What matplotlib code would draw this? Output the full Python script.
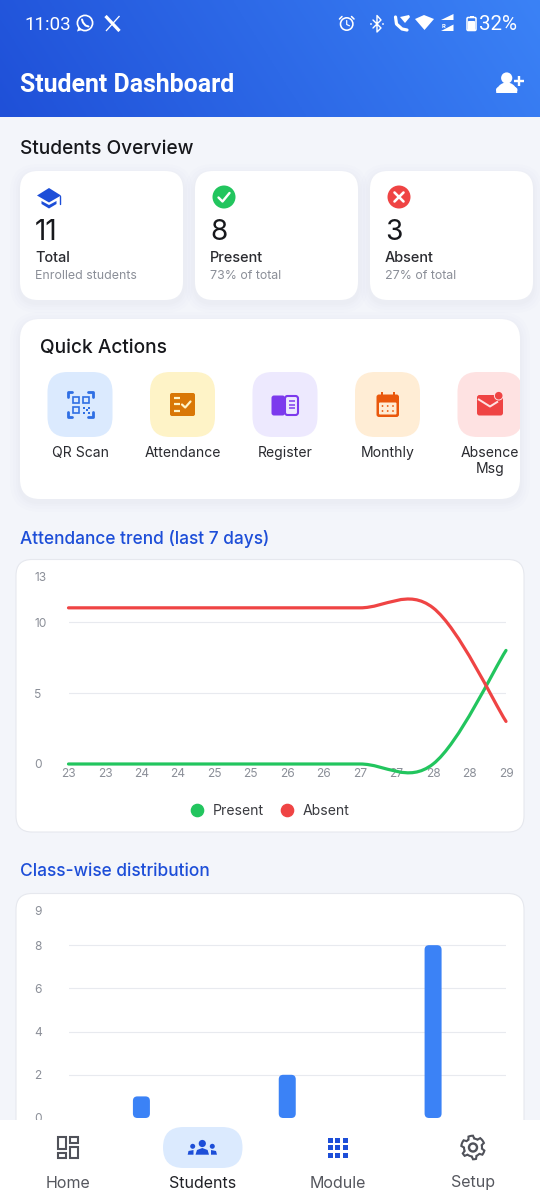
import numpy as np
import matplotlib
matplotlib.use('Agg')
import matplotlib.pyplot as plt
from matplotlib.patches import FancyBboxPatch, Circle, Polygon, PathPatch, Rectangle, Wedge
from matplotlib.path import Path
from matplotlib.lines import Line2D

W, H = 540, 1200

# chart data
trend_ticks = [0, 1, 2, 3, 4, 5, 6, 7, 8, 9, 10, 11, 12]
trend_tick_labels = ['23', '23', '24', '24', '25', '25', '26', '26', '27', '27', '28', '28', '29']
trend_days = [0, 2, 4, 6, 8, 10, 12]
present = [0, 0, 0, 0, 0, 0, 8]
absent = [11, 11, 11, 11, 11, 11, 3]
trend_yticks = [0, 5, 10, 13.2]
trend_ylabels = ['0', '5', '10', '13']

class_pos = [0, 1, 2]
class_counts = [1, 2, 8]
class_yticks = [0, 2, 4, 6, 8, 9.6]
class_ylabels = ['0', '2', '4', '6', '8', '9']

# screen text
overview_values = ['11', '8', '3']
overview_names = ['Total', 'Present', 'Absent']
overview_subs = ['Enrolled students', '73% of total', '27% of total']
action_names = ['QR Scan', 'Attendance', 'Register', 'Monthly', 'Absence\nMsg']
action_bg = ['#dbeafe', '#fef3c7', '#ede9fe', '#ffedd5', '#fee2e2']
nav_names = ['Home', 'Students', 'Module', 'Setup']

BG = '#f3f5fa'
BLUE = '#1d4ed8'
GREEN = '#22c55e'
RED = '#ef4444'
DARK = '#17181c'
GREY = '#8b8f98'
GRID = '#e8eaef'
ICON = '#50525a'


def px_axes(fig, x0, y0, x1, y1, zorder=1):
    return fig.add_axes([x0 / W, 1 - y1 / H, (x1 - x0) / W, (y1 - y0) / H], zorder=zorder)


def rrect(ax, x0, y0, x1, y1, r, fc, ec='none', lw=0, z=2, alpha=None):
    p = FancyBboxPatch((x0, y0), x1 - x0, y1 - y0, boxstyle=f'round,pad=0,rounding_size={r}',
                       fc=fc, ec=ec, lw=lw, zorder=z, alpha=alpha)
    ax.add_patch(p)
    return p


def shadow(ax, x0, y0, x1, y1, r, z=1):
    for grow, a in [(10, 0.006), (7, 0.008), (4, 0.01), (2, 0.012)]:
        rrect(ax, x0 - grow, y0 - grow + 3, x1 + grow, y1 + grow + 3, r + grow, '#4a5a80', z=z, alpha=a)


def txt(ax, x, y, s, px, color=DARK, family='Inter', weight='normal', ha='left', va='center', z=6, **kw):
    return ax.text(x, y, s, fontsize=px * 0.72, color=color, family=family, weight=weight,
                   ha=ha, va=va, zorder=z, **kw)


def ln(ax, xs, ys, color, lw=1.5, z=6, cap='round'):
    ax.plot(xs, ys, color=color, lw=lw * 0.72, solid_capstyle=cap, solid_joinstyle='round', zorder=z)


def poly(ax, pts, fc, z=6, ec='none', lw=0):
    ax.add_patch(Polygon(pts, closed=True, fc=fc, ec=ec, lw=lw, zorder=z))


def circ(ax, x, y, r, fc, ec='none', lw=0, z=6):
    ax.add_patch(Circle((x, y), r, fc=fc, ec=ec, lw=lw * 0.72, zorder=z))


def curved(xs, ys, smooth=0.35):
    # same cubic control points as the app's chart widget
    verts = [(xs[0], ys[0])]
    codes = [Path.MOVETO]
    n = len(xs)
    prev_dx, prev_dy = 0.0, 0.0
    for i in range(1, n):
        nx = xs[min(i + 1, n - 1)]
        ny = ys[min(i + 1, n - 1)]
        dx = (nx - xs[i - 1]) / 2 * smooth
        dy = (ny - ys[i - 1]) / 2 * smooth
        verts += [(xs[i - 1] + prev_dx, ys[i - 1] + prev_dy), (xs[i] - dx, ys[i] - dy), (xs[i], ys[i])]
        codes += [Path.CURVE4, Path.CURVE4, Path.CURVE4]
        prev_dx, prev_dy = dx, dy
    return Path(verts, codes)


fig = plt.figure(figsize=(W / 100, H / 100), dpi=100, facecolor=BG)
ui = px_axes(fig, 0, 0, W, H, zorder=0)
ui.set_xlim(0, W)
ui.set_ylim(H, 0)
ui.axis('off')

# header gradient
gx, gy = np.meshgrid(np.linspace(0, 1, 270), np.linspace(0, 1, 60))
g = np.clip(0.88 * gx + 0.12 * (1 - gy), 0, 1)[..., None]
c0 = np.array([0x1f, 0x50, 0xd8]) / 255
c1 = np.array([0x3b, 0x82, 0xf6]) / 255
ui.imshow(c0 + (c1 - c0) * g, extent=(0, W, 117, 0), aspect='auto', zorder=1)
ui.set_xlim(0, W)
ui.set_ylim(H, 0)

# status bar
txt(ui, 24, 25, '11:03', 18.8, 'white', family='Roboto')
circ(ui, 85, 23, 7.6, 'none', 'white', 1.7)
poly(ui, [(78.5, 27), (77, 31.5), (82, 30)], 'white')
ln(ui, [82, 83, 85.5, 88.5], [19.5, 22.5, 25.5, 26.5], 'white', 2)
ln(ui, [105.5, 119.5], [16, 31], 'white', 3.2, cap='butt')
ln(ui, [119.5, 106], [16, 31], 'white', 1.3, cap='butt')
circ(ui, 346.7, 24, 6.2, 'none', 'white', 1.6)
ln(ui, [346.7, 346.7, 349.5], [20.5, 24.5, 25.8], 'white', 1.2)
ln(ui, [339.5, 342], [19, 16.5], 'white', 1.6)
ln(ui, [351.5, 354], [16.5, 19], 'white', 1.6)
ln(ui, [373, 381, 377, 377, 381, 373], [20, 28, 32, 15.5, 20, 28], 'white', 1.4)
circ(ui, 371, 24, 0.9, 'white')
circ(ui, 383, 24, 0.9, 'white')
ln(ui, [395.5, 396.5, 402, 407], [17, 24, 29, 30], 'white', 3.2)
poly(ui, [(400, 17), (409, 15), (410, 17), (405, 23)], 'white')
poly(ui, [(415, 19), (424, 15), (434, 19), (424.5, 30)], 'white')
poly(ui, [(441, 20), (453.5, 14), (453.5, 20)], 'white')
poly(ui, [(441, 31), (453.5, 24.5), (453.5, 31)], 'white')
txt(ui, 443.5, 26, 'R', 6, 'white', family='Roboto', weight='bold', ha='center')
rrect(ui, 467, 17.5, 476, 30.5, 1.2, 'none', 'white', 1.1, z=6)
rrect(ui, 468, 21, 475, 30.5, 0.8, 'white', z=6)
ui.add_patch(Rectangle((469.5, 15.7), 4, 2, fc='white', zorder=6))
txt(ui, 479.5, 25, '32%', 20.5, 'white', family='Roboto')

# app bar
txt(ui, 20, 84.5, 'Student Dashboard', 24.9, 'white', family='Roboto', weight='bold')
circ(ui, 506.7, 78, 5.6, 'white')
ui.add_patch(Wedge((506.7, 93), 10.5, 180, 360, fc='white', zorder=6, transform=ui.transData))
rrect(ui, 496, 87, 517.5, 93, 3, 'white', z=6)
ln(ui, [513.5, 523.5], [81, 81], 'white', 2.4, cap='butt')
ln(ui, [518.5, 518.5], [76, 86], 'white', 2.4, cap='butt')

# overview cards
txt(ui, 20, 149.5, 'Students Overview', 19.1, DARK, weight='medium')
card_left = [20, 195, 370]
for i, x0 in enumerate(card_left):
    shadow(ui, x0, 171, x0 + 163, 300, 18)
    rrect(ui, x0, 171, x0 + 163, 300, 18, 'white', z=2)
    txt(ui, x0 + 15, 232, overview_values[i], 28, DARK)
    txt(ui, x0 + 15, 258, overview_names[i], 14.5, '#2a2b30', weight='medium')
    txt(ui, x0 + 15, 276, overview_subs[i], 12.4, GREY)

# graduation cap
poly(ui, [(37, 195.5), (49, 188), (61, 195.5), (49, 202.5)], BLUE)
poly(ui, [(41.5, 201), (49, 205), (56.5, 201), (56.5, 204), (49, 208.5), (41.5, 204)], BLUE)
ln(ui, [60.3, 60.3], [196, 204], BLUE, 1.4)
circ(ui, 224, 197, 11.5, GREEN)
ln(ui, [218.5, 222.5, 229.5], [197.5, 201.5, 193], 'white', 2.4)
circ(ui, 399, 197, 11.5, RED)
ln(ui, [394.5, 403.5], [192.5, 201.5], 'white', 2.6)
ln(ui, [403.5, 394.5], [192.5, 201.5], 'white', 2.6)

# quick actions
shadow(ui, 20, 319, 520, 499, 20)
rrect(ui, 20, 319, 520, 499, 20, 'white', z=2)
txt(ui, 40, 348, 'Quick Actions', 19.1, DARK, weight='medium')
action_x = [80, 182.5, 285, 387.5, 490]
for i, cx in enumerate(action_x):
    t = rrect(ui, cx - 32.5, 372, cx + 32.5, 437, 20, action_bg[i], z=3)
    t.set_clip_path(Rectangle((20, 319), 500, 180, transform=ui.transData))
    txt(ui, cx, 453 if i < 4 else 461, action_names[i], 14, '#2a2b30', ha='center', linespacing=1.15)

# QR icon
qc = '#2f6fe4'
for sx, sy in [(67.5, 392), (92.5, 392), (67.5, 416.5), (92.5, 416.5)]:
    dx = 4.5 if sx < 80 else -4.5
    dy = 4.5 if sy < 404 else -4.5
    ln(ui, [sx + dx, sx, sx], [sy, sy, sy + dy], qc, 2.8)
for bx0, by0 in [(72.5, 396.5), (82.5, 396.5), (72.5, 406.5)]:
    ui.add_patch(Rectangle((bx0, by0), 6, 6, fc='none', ec=qc, lw=1.2, zorder=6))
for bx0, by0 in [(82.5, 406.5), (85.5, 409), (88, 406.5), (82.5, 411.5), (88, 411.5)]:
    ui.add_patch(Rectangle((bx0, by0), 2, 2, fc=qc, zorder=6))

# attendance icon
ac = '#d97706'
rrect(ui, 170, 393, 195, 416, 2, ac, z=6)
for yy in [397.5, 404, 410.5]:
    ln(ui, [174, 179.5], [yy, yy], '#fef3c7', 2.2, cap='butt')
ln(ui, [182, 185.2, 190.5], [404.5, 407.5, 401.5], '#fef3c7', 2.2)

# book icon
bc = '#7c3aed'
rrect(ui, 271.5, 395.5, 285, 415.5, 2.5, bc, z=6)
rrect(ui, 285, 396, 298, 415, 2.5, 'none', bc, 1.5, z=6)
for yy in [401, 404.5, 408]:
    ln(ui, [288.5, 295], [yy, yy], bc, 1.5, cap='butt')

# calendar icon
cc = '#ea580c'
rrect(ui, 376.5, 394.5, 399, 417, 2.5, cc, z=6)
rrect(ui, 379, 402.5, 396.5, 414.5, 1, '#ffedd5', z=6)
ln(ui, [382, 382], [392, 396], cc, 2, cap='butt')
ln(ui, [393.5, 393.5], [392, 396], cc, 2, cap='butt')
for yy in [406, 411]:
    for xx in [382.5, 387.7, 393]:
        circ(ui, xx, yy, 0.9, cc)

# mail icon
mc = '#ef4444'
rrect(ui, 477, 395, 503, 415.5, 2.5, mc, z=6)
ln(ui, [478, 490, 498], [399, 406.5, 401.5], '#fee2e2', 2, cap='butt')
circ(ui, 498.7, 395.7, 4.8, '#fee2e2', z=6)
circ(ui, 498.7, 395.7, 3.8, mc, z=7)

# section titles and chart cards
txt(ui, 20, 538.5, 'Attendance trend (last 7 days)', 17.35, BLUE, weight='medium')
txt(ui, 20, 872, 'Class-wise distribution', 17.35, BLUE, weight='medium')
rrect(ui, 16, 559.5, 524, 832, 16, 'white', '#e6e8ee', 0.8, z=2)
rrect(ui, 16, 893.5, 524, 1180, 16, 'white', '#e6e8ee', 0.8, z=2)

# attendance trend
ax = px_axes(fig, 68.5, 576.6, 506, 764)
ax.patch.set_alpha(0)
ax.set_xlim(0, 12)
ax.set_ylim(0, 13.2)
for s in ax.spines.values():
    s.set_visible(False)
ax.set_xticks(trend_ticks)
ax.set_xticklabels(trend_tick_labels)
ax.set_yticks(trend_yticks)
ax.set_yticklabels(trend_ylabels)
ax.tick_params(axis='x', length=0, pad=3.2, labelsize=8.6, labelcolor=GREY)
ax.tick_params(axis='y', length=0, pad=24.8, labelsize=8.6, labelcolor=GREY)
for lab in ax.get_yticklabels():
    lab.set_ha('left')
for lab in ax.get_xticklabels() + ax.get_yticklabels():
    lab.set_family('Inter')
for v in trend_yticks[1:3]:
    ax.axhline(v, color=GRID, lw=0.8, zorder=1)
for ys, col in [(present, GREEN), (absent, RED)]:
    ax.add_patch(PathPatch(curved(trend_days, ys), fc='none', ec=col, lw=2.3, clip_on=False,
                           capstyle='round', zorder=3))
handles = [Line2D([], [], ls='none', marker='o', ms=8.8, color=GREEN, label='Present'),
           Line2D([], [], ls='none', marker='o', ms=8.8, color=RED, label='Absent')]
ax.legend(handles=handles, loc='center', bbox_to_anchor=(0.452, -0.25), ncol=2, frameon=False,
          prop={'family': 'Inter', 'size': 10.1}, labelcolor='#3a3b40', handletextpad=0.1,
          columnspacing=0.64)

# class-wise distribution
bx = px_axes(fig, 68.5, 910.6, 506, 1118)
bx.patch.set_alpha(0)
bx.set_xlim(-0.5, 2.5)
bx.set_ylim(0, 9.6)
for s in bx.spines.values():
    s.set_visible(False)
bx.set_xticks([])
bx.set_yticks(class_yticks)
bx.set_yticklabels(class_ylabels)
bx.tick_params(axis='y', length=0, pad=24.8, labelsize=8.6, labelcolor=GREY)
for lab in bx.get_yticklabels():
    lab.set_ha('left')
    lab.set_family('Inter')
for v in class_yticks[1:5]:
    bx.axhline(v, color=GRID, lw=0.8, zorder=1)
bar_w = 17 / 145.8
bars = bx.bar(class_pos, class_counts, width=bar_w, color='#3b82f6', zorder=2)
for b in bars:
    # swap the square bar for a rounded one of the same size
    bx.add_patch(FancyBboxPatch((b.get_x(), 0), b.get_width(), b.get_height(),
                                boxstyle=f'round,pad=0,rounding_size={4.5 / 145.8}',
                                mutation_aspect=145.8 / 21.6, fc='#3b82f6', ec='none', zorder=3))
    b.set_visible(False)

# bottom navigation on top of the charts
nav = px_axes(fig, 0, 0, W, H, zorder=3)
nav.set_xlim(0, W)
nav.set_ylim(H, 0)
nav.axis('off')
nav.patch.set_alpha(0)
nav.add_patch(Rectangle((0, 1120), W, 80, fc='white', zorder=1))
rrect(nav, 163, 1127, 242.5, 1168, 20.5, '#dbeafe', z=2)
nav_x = [68, 203, 338, 473]
for i, cx in enumerate(nav_x):
    txt(nav, cx, 1187.5, nav_names[i], 16, '#202126' if i == 1 else '#55575e', ha='center', va='baseline')

# home icon
for x0, y0, x1, y1 in [(57.5, 1137.2, 65.8, 1149), (70, 1137.2, 78, 1142.5), (57.5, 1153, 65.8, 1157.5), (70, 1147, 78, 1157.5)]:
    nav.add_patch(Rectangle((x0, y0), x1 - x0, y1 - y0, fc='none', ec=ICON, lw=1.5, zorder=6))

# students icon
circ(nav, 202.3, 1143.5, 3.6, BLUE)
circ(nav, 192.7, 1146.3, 2.5, BLUE)
circ(nav, 212.3, 1146.3, 2.5, BLUE)
poly(nav, [(195.5, 1154.7), (197, 1150), (202.3, 1148), (207.6, 1150), (209, 1154.7)], BLUE)
poly(nav, [(187.7, 1154.7), (188.5, 1151), (193.5, 1150), (193.5, 1154.7)], BLUE)
poly(nav, [(211, 1154.7), (211, 1150), (216, 1151), (217, 1154.7)], BLUE)

# module icon
for yy in [1137.5, 1145, 1152.5]:
    for xx in [327.5, 335, 342.5]:
        nav.add_patch(Rectangle((xx, yy), 5.4, 5.4, fc=BLUE, zorder=6))

# gear icon
gear_a = np.linspace(0, 2 * np.pi, 48, endpoint=False)
gear_r = np.where(((gear_a + np.pi / 24) % (np.pi / 3)) < np.pi / 6, 11.8, 9)
poly(nav, np.c_[473 + gear_r * np.sin(gear_a), 1147.5 + gear_r * np.cos(gear_a)], 'none', ec=ICON, lw=1.5)
circ(nav, 473, 1147.5, 4, 'none', ICON, 2.4)

fig.savefig('out.png', dpi=100, facecolor=BG)
